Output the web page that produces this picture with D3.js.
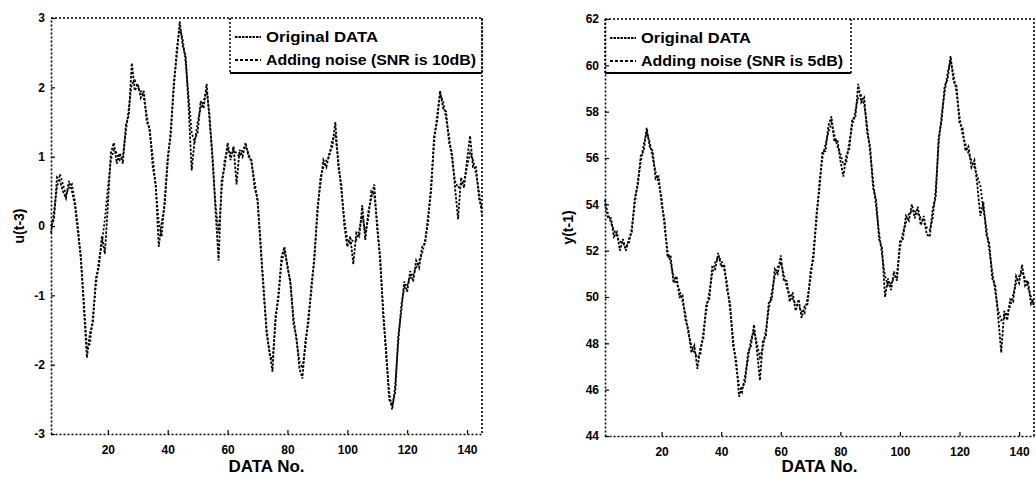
<!DOCTYPE html>
<html>
<head>
<meta charset="utf-8">
<script src="https://cdn.jsdelivr.net/npm/d3@7"></script>
<style>
  body { margin: 0; background: #fff; }
  svg { display: block; font-family: "Liberation Sans", Arial, sans-serif; font-weight: bold; }
</style>
</head>
<body>
<div id="chart"></div>
<script>
// data
var dataNo = d3.range(1, 146);

var uOriginal = [
  -0.10, 0.20, 0.55, 0.75, 0.60, 0.45, 0.55, 0.60, 0.35, 0.00,
  -0.50, -1.10, -1.75, -1.70, -1.30, -0.85, -0.50, -0.25, 0.10, 0.55,
  0.95, 1.10, 1.05, 0.95, 1.00, 1.35, 1.70, 2.05, 2.10, 2.00,
  1.95, 1.85, 1.60, 1.35, 1.00, 0.55, 0.05, -0.15, 0.40, 0.90,
  1.40, 1.95, 2.55, 2.85, 2.70, 2.35, 1.85, 1.35, 1.20, 1.50,
  1.70, 1.80, 1.95, 1.60, 0.90, 0.30, -0.10, 0.50, 0.95, 1.10,
  1.05, 1.10, 1.05, 1.00, 1.10, 1.15, 1.05, 0.90, 0.65, 0.35,
  -0.20, -0.95, -1.45, -1.85, -1.95, -1.40, -0.95, -0.55, -0.35, -0.55,
  -0.85, -1.30, -1.65, -1.95, -2.05, -1.75, -1.30, -0.95, -0.40, 0.15,
  0.70, 0.85, 0.95, 1.00, 1.25, 1.30, 0.95, 0.50, 0.10, -0.20,
  -0.25, -0.20, -0.20, -0.05, 0.15, -0.10, 0.10, 0.50, 0.45, 0.05,
  -0.55, -1.20, -1.90, -2.40, -2.65, -2.30, -1.70, -1.15, -0.90, -0.85,
  -0.75, -0.70, -0.60, -0.50, -0.40, -0.20, 0.05, 0.60, 1.20, 1.60,
  1.90, 1.80, 1.55, 1.30, 0.95, 0.65, 0.55, 0.60, 0.65, 0.85,
  1.05, 0.95, 0.75, 0.50, 0.15
];

var uNoisy = [
  0.00, 0.10, 0.70, 0.65, 0.50, 0.40, 0.65, 0.50, 0.30, -0.10,
  -0.45, -1.20, -1.90, -1.55, -1.40, -0.75, -0.60, -0.15, -0.40, 0.30,
  1.05, 1.20, 0.90, 1.05, 0.90, 1.45, 1.60, 2.35, 1.95, 2.05,
  1.85, 1.95, 1.50, 1.40, 0.85, 0.60, -0.30, 0.05, 0.30, 1.00,
  1.30, 2.05, 2.45, 2.95, 2.60, 2.45, 1.70, 0.80, 1.25, 1.35,
  1.80, 1.70, 2.05, 1.50, 1.00, 0.20, -0.50, 0.65, 0.85, 1.20,
  0.95, 1.15, 0.60, 1.10, 1.00, 1.20, 1.00, 0.95, 0.55, 0.40,
  -0.30, -0.85, -1.55, -1.80, -2.10, -1.30, -1.05, -0.45, -0.30, -0.60,
  -0.80, -1.40, -1.60, -2.05, -2.20, -1.65, -1.40, -0.85, -0.50, 0.25,
  0.60, 0.95, 0.85, 1.05, 1.15, 1.50, 0.85, 0.60, 0.00, -0.30,
  -0.15, -0.55, -0.10, -0.15, 0.30, -0.20, 0.20, 0.40, 0.60, -0.05,
  -0.45, -1.30, -1.80, -2.50, -2.60, -2.40, -1.60, -1.25, -0.80, -0.95,
  -0.65, -0.80, -0.50, -0.60, -0.30, -0.25, 0.15, 0.50, 1.30, 1.50,
  1.95, 1.70, 1.65, 1.20, 1.05, 0.55, 0.10, 0.70, 0.55, 0.95,
  1.30, 0.85, 0.85, 0.40, 0.25
];

var yOriginal = [
  54.0, 53.6, 53.2, 52.9, 52.6, 52.4, 52.3, 52.2, 52.3, 53.0,
  54.0, 55.0, 55.8, 56.6, 57.1, 56.7, 56.0, 55.4, 54.9, 54.3,
  53.0, 52.0, 51.5, 50.9, 50.6, 50.3, 49.8, 49.3, 48.4, 47.9,
  47.6, 47.4, 47.5, 48.5, 49.4, 50.2, 51.0, 51.5, 51.7, 51.6,
  51.2, 50.6, 49.4, 48.2, 47.0, 46.2, 45.9, 46.6, 47.3, 48.2,
  48.5, 48.0, 47.4, 47.8, 48.6, 49.5, 50.2, 50.9, 51.3, 51.5,
  51.0, 50.4, 50.1, 49.9, 49.7, 49.6, 49.4, 49.3, 50.0, 50.8,
  52.0, 53.3, 55.0, 56.0, 56.6, 57.1, 57.5, 57.0, 56.5, 56.2,
  55.7, 55.8, 56.7, 57.4, 58.0, 58.6, 58.7, 58.3, 57.4, 56.2,
  55.0, 53.9, 52.8, 51.8, 50.9, 50.5, 50.6, 50.8, 51.0, 52.1,
  52.8, 53.2, 53.6, 53.7, 53.7, 53.6, 53.4, 53.2, 53.0, 52.9,
  53.4, 54.6, 56.6, 57.9, 58.8, 59.7, 60.2, 59.6, 58.8, 57.8,
  57.0, 56.6, 56.2, 55.9, 55.6, 55.2, 54.8, 53.8, 53.0, 52.0,
  51.1, 50.2, 49.4, 49.0, 49.1, 49.3, 49.6, 50.1, 50.6, 50.9,
  51.1, 50.8, 50.4, 50.0, 49.6
];

var yNoisy = [
  54.2, 53.4, 53.4, 52.6, 52.8, 52.0, 52.5, 52.0, 52.5, 52.8,
  54.3, 54.8, 56.1, 56.3, 57.3, 56.5, 56.3, 55.1, 55.2, 54.0,
  53.3, 51.7, 51.8, 50.6, 50.9, 50.0, 50.1, 49.0, 48.6, 47.6,
  47.9, 46.9, 47.8, 48.2, 49.7, 49.9, 51.3, 51.2, 51.9, 51.3,
  51.4, 50.3, 49.7, 47.9, 47.3, 45.7, 46.1, 46.3, 47.6, 47.9,
  48.8, 47.7, 46.4, 48.1, 48.3, 49.8, 49.9, 51.2, 51.0, 51.8,
  50.7, 50.7, 49.8, 50.2, 49.4, 49.9, 49.1, 49.6, 49.7, 51.1,
  51.7, 53.6, 54.7, 56.3, 56.3, 57.4, 57.8, 56.7, 56.8, 55.9,
  55.2, 56.1, 56.4, 57.7, 57.7, 59.2, 58.4, 58.6, 57.1, 56.5,
  54.7, 54.2, 52.5, 52.1, 50.0, 50.8, 50.3, 51.1, 50.7, 52.4,
  52.5, 53.5, 53.3, 54.0, 53.4, 53.9, 53.1, 53.5, 52.7, 52.6,
  53.8, 54.3, 56.9, 57.6, 59.1, 59.4, 60.4, 59.3, 59.1, 57.5,
  57.3, 56.3, 56.5, 55.6, 55.9, 54.8, 53.5, 54.1, 52.7, 52.3,
  50.8, 50.5, 49.1, 47.6, 49.4, 49.0, 49.9, 49.8, 50.9, 50.6,
  51.4, 50.5, 50.7, 49.7, 49.9
];

var xTicks = [20, 40, 60, 80, 100, 120, 140];
var uTicks = [-3, -2, -1, 0, 1, 2, 3];
var yTicks = [44, 46, 48, 50, 52, 54, 56, 58, 60, 62];
var legendLabels = ["Original DATA", "Adding noise (SNR is 10dB)"];
var legendLabels2 = ["Original DATA", "Adding noise (SNR is 5dB)"];

var width = 1036;
var height = 483;

var svg = d3.select("#chart")
  .append("svg")
    .attr("width", width)
    .attr("height", height);

function drawPanel(p) {
  var x = d3.scaleLinear().domain([1, 145]).range([p.left, p.right]);
  var y = d3.scaleLinear().domain(p.domain).range([p.bottom, p.top]);
  var g = svg.append("g");

  // lines
  var line = d3.line()
    .x((d, i) => x(dataNo[i]))
    .y(d => y(d));

  g.append("path")
    .datum(p.noisy)
    .attr("d", line)
    .attr("fill", "none")
    .attr("stroke", "#000")
    .attr("stroke-width", 1.8)
    .attr("stroke-dasharray", "2.5,1.5");

  g.append("path")
    .datum(p.original)
    .attr("d", line)
    .attr("fill", "none")
    .attr("stroke", "#000")
    .attr("stroke-width", 1.8)
    .attr("stroke-dasharray", "2,2");

  // axes (dotted box like the scan)
  var xAxis = g.append("g")
    .attr("transform", `translate(0,${p.bottom})`)
    .call(d3.axisBottom(x).tickValues(xTicks).tickFormat(d => d).tickSizeInner(-4).tickSizeOuter(0).tickPadding(11));
  var yAxis = g.append("g")
    .attr("transform", `translate(${p.left},0)`)
    .call(d3.axisLeft(y).tickValues(p.ticks).tickFormat(d => d).tickSizeInner(-4).tickSizeOuter(0).tickPadding(6));

  [xAxis, yAxis].forEach(a => {
    a.select(".domain").attr("stroke-dasharray", "2,2").attr("stroke-width", 1.6);
    a.selectAll(".tick line").attr("stroke-width", 1.2);
    a.selectAll(".tick text")
      .attr("font-family", "Liberation Sans, Arial, sans-serif")
      .attr("font-weight", "bold")
      .attr("font-size", 12)
      .attr("fill", "#000");
  });

  // top and right frame
  g.append("path")
    .attr("d", `M${p.left},${p.top}H${p.right}V${p.bottom}`)
    .attr("fill", "none")
    .attr("stroke", "#000")
    .attr("stroke-width", 1.6)
    .attr("stroke-dasharray", "2,2");

  // axis titles
  g.append("text")
    .attr("x", (p.left + p.right) / 2)
    .attr("y", 472)
    .attr("text-anchor", "middle")
    .attr("font-size", 17)
    .text("DATA No.");

  g.append("text")
    .attr("transform", `translate(${p.ylabelX},${(p.top + p.bottom) / 2}) rotate(-90)`)
    .attr("text-anchor", "middle")
    .attr("font-size", 14)
    .text(p.ylabel);

  // legend box: dotted sides, solid bottom
  var lg = g.append("g");
  lg.append("path")
    .attr("d", `M${p.legLeft},${p.top}V${p.legBottom}M${p.legRight},${p.top}V${p.legBottom}`)
    .attr("stroke", "#000")
    .attr("stroke-width", 1.5)
    .attr("stroke-dasharray", "2,2");
  lg.append("line")
    .attr("x1", p.legLeft).attr("x2", p.legRight)
    .attr("y1", p.legBottom).attr("y2", p.legBottom)
    .attr("stroke", "#000")
    .attr("stroke-width", 1.8);

  p.labels.forEach((lab, i) => {
    var ly = p.top + 19 + i * 23;
    lg.append("line")
      .attr("x1", p.legLeft + 5).attr("x2", p.legLeft + 31)
      .attr("y1", ly).attr("y2", ly)
      .attr("stroke", "#000")
      .attr("stroke-width", 2)
      .attr("stroke-dasharray", i === 0 ? "2.5,1" : "3,2");
    lg.append("text")
      .attr("x", p.legLeft + 36)
      .attr("y", ly + 5)
      .attr("font-size", 14)
      .attr("textLength", p.textLen[i])
      .attr("lengthAdjust", "spacingAndGlyphs")
      .text(lab);
  });
}

drawPanel({
  left: 51, right: 482, top: 18, bottom: 434,
  domain: [-3, 3], ticks: uTicks,
  original: uOriginal, noisy: uNoisy,
  ylabel: "u(t-3)", ylabelX: 24,
  legLeft: 230, legRight: 482, legBottom: 73,
  labels: legendLabels, textLen: [112, 210]
});

drawPanel({
  left: 605, right: 1034, top: 19, bottom: 436,
  domain: [44, 62], ticks: yTicks,
  original: yOriginal, noisy: yNoisy,
  ylabel: "y(t-1)", ylabelX: 573,
  legLeft: 605, legRight: 851, legBottom: 73,
  labels: legendLabels2, textLen: [110, 202]
});
</script>
</body>
</html>
